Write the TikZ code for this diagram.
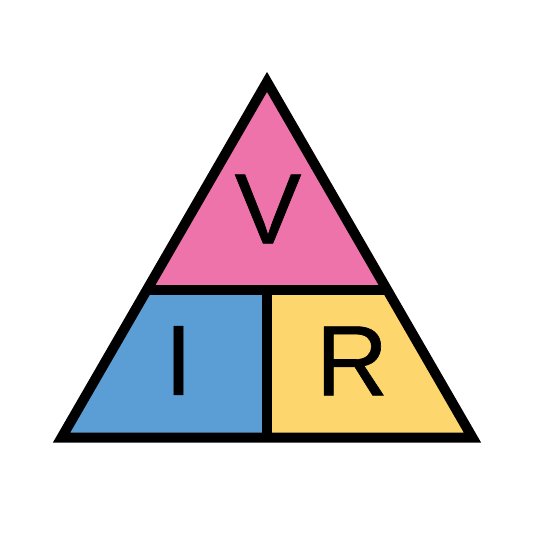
\documentclass[tikz,border=0pt]{standalone}
\usepackage{fontspec}
\setmainfont{Liberation Sans}
\newfontfamily\lettersfont[FakeBold=0.6]{Liberation Sans}
\definecolor{vpink}{RGB}{238,115,170}
\definecolor{iblue}{RGB}{91,158,213}
\definecolor{ryellow}{RGB}{253,214,110}
\begin{document}
\begin{tikzpicture}[x=1pt,y=-1pt,
  edge/.style={line width=10pt,line join=miter,black},
  letter/.style={inner sep=0pt,font=\lettersfont\fontsize{100}{100}\selectfont}]
\useasboundingbox (0,0) rectangle (538,533);
\coordinate (A) at (267,81.9);
\coordinate (B) at (61.6,437.5);
\coordinate (C) at (472.4,437.5);
\coordinate (L) at (147.1,289.5);
\coordinate (Rr) at (386.9,289.5);
\coordinate (N) at (267,289.5);
\coordinate (M) at (267,437.5);
\fill[vpink] (A) -- (L) -- (Rr) -- cycle;
\fill[iblue] (L) -- (B) -- (M) -- (N) -- cycle;
\fill[ryellow] (N) -- (M) -- (C) -- (Rr) -- cycle;
\draw[edge] (L) -- (Rr);
\draw[edge] (N) -- (M);
\draw[edge] (A) -- (B) -- (C) -- cycle;
\node[letter] (v) at (268,209) {V};
\node[letter] (i) at (178.5,360.5) {I};
\node[letter] (r) at (352,361) {R};
\end{tikzpicture}
\end{document}
